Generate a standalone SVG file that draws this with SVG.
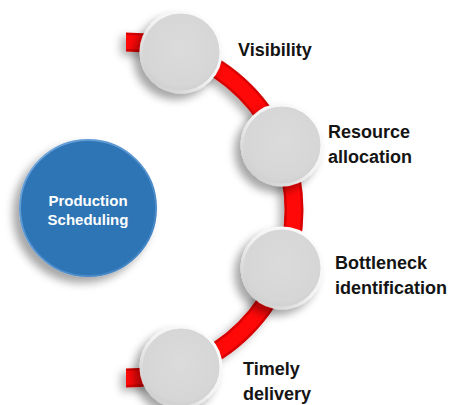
<svg xmlns="http://www.w3.org/2000/svg" width="454" height="405" viewBox="0 0 454 405">
  <defs>
    <filter id="sh" x="-40%" y="-40%" width="180%" height="180%">
      <feDropShadow dx="-6" dy="6" stdDeviation="4.5" flood-color="#000" flood-opacity="0.35"/>
    </filter>
    <filter id="shArc" x="-20%" y="-20%" width="140%" height="140%">
      <feDropShadow dx="-5" dy="4" stdDeviation="4" flood-color="#000" flood-opacity="0.3"/>
    </filter>
    <linearGradient id="rim" x1="1" y1="0" x2="0" y2="1">
      <stop offset="0" stop-color="#ffffff"/>
      <stop offset="0.5" stop-color="#f2f2f2"/>
      <stop offset="1" stop-color="#c4c4c4"/>
    </linearGradient>
    <radialGradient id="gray" cx="0.5" cy="0.45" r="0.55">
      <stop offset="0" stop-color="#dbdbdb"/>
      <stop offset="0.85" stop-color="#d6d6d6"/>
      <stop offset="1" stop-color="#cfcfcf"/>
    </radialGradient>
    <linearGradient id="blueRim" x1="0" y1="0" x2="1" y2="1">
      <stop offset="0" stop-color="#6fa6dc"/>
      <stop offset="1" stop-color="#3b7fc0"/>
    </linearGradient>
  </defs>
  <style>
    .gc { fill: url(#gray); stroke: url(#rim); stroke-width: 3; filter: url(#sh); }
    .arc { fill: none; }
    .lbl { font-family: "Liberation Sans", Arial, sans-serif; font-weight: bold; font-size: 18px; fill: #141414; }
    .ctr { font-family: "Liberation Sans", Arial, sans-serif; font-weight: bold; font-size: 15px; fill: #ffffff; text-anchor: middle; }
  </style>

  <g id="connectors">
    <path class="arc" d="M 126 42 A 168 168 0 0 1 126 378" stroke="#d80000" stroke-width="19" filter="url(#shArc)"/>
    <path class="arc" d="M 126 42 A 168 168 0 0 1 126 378" stroke="#ff0808" stroke-width="14"/>
  </g>

  <g id="center">
    <circle cx="88" cy="208" r="68" fill="#2f74b5" stroke="url(#blueRim)" stroke-width="2" filter="url(#sh)"/>
    <text class="ctr" x="88" y="206">Production</text>
    <text class="ctr" x="88" y="225">Scheduling</text>
  </g>

  <g id="visibility">
    <circle class="gc" cx="181" cy="52" r="40"/>
    <text class="lbl" x="238" y="56">Visibility</text>
  </g>

  <g id="resource-allocation">
    <circle class="gc" cx="282" cy="145" r="40"/>
    <text class="lbl" x="328" y="138">Resource</text>
    <text class="lbl" x="328" y="163">allocation</text>
  </g>

  <g id="bottleneck-identification">
    <circle class="gc" cx="282" cy="268" r="40"/>
    <text class="lbl" x="335" y="269">Bottleneck</text>
    <text class="lbl" x="335" y="294">identification</text>
  </g>

  <g id="timely-delivery">
    <circle class="gc" cx="181" cy="367" r="40"/>
    <text class="lbl" x="243" y="375">Timely</text>
    <text class="lbl" x="243" y="400">delivery</text>
  </g>
</svg>
